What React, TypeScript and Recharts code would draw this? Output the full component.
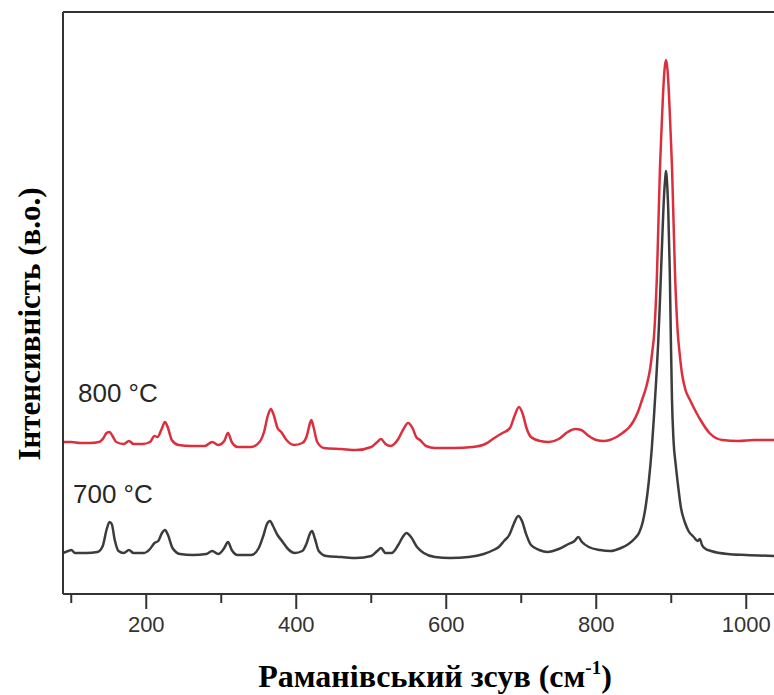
import React from 'react';
import { LineChart, Line, XAxis, YAxis, ReferenceLine, Customized } from 'recharts';

// Raman shift axis (cm-1)
const shiftTicks = [100, 200, 300, 400, 500, 600, 700, 800, 900, 1000];
const shiftDomain: [number, number] = [89, 1037];
const intensityDomain: [number, number] = [0, 582];

// Spectrum of the sample annealed at 800 °C (offset upwards)
const shift800 = [
  89, 100, 112, 125, 137, 143, 147, 151, 155, 160,
  170, 177, 183, 195, 205, 211, 215, 220, 225, 229,
  234, 243, 260, 278, 288, 296, 304, 309, 314, 322,
  340, 351, 357, 362, 366, 370, 375, 380, 387, 397,
  408, 414, 418, 420, 423, 428, 437, 460, 480, 500,
  508, 513, 519, 526, 536, 543, 549, 555, 560, 565,
  573, 585, 610, 635, 652, 664, 675, 685, 691, 697,
  702, 707, 713, 725, 737, 750, 762, 772, 780, 790,
  800, 810, 818, 827, 835, 843, 849, 855, 861, 867,
  872, 875, 877, 879, 881, 882, 883, 885, 887, 889,
  891, 893, 895, 897, 899, 901, 903, 904, 905, 907,
  909, 911, 914, 919, 925, 933, 939, 951, 968, 990,
  1010, 1037,
];
const counts800 = [
  152, 152, 151, 151, 152, 156, 161, 162, 158, 152,
  150, 153, 150, 150, 152, 158, 157, 164, 172, 166,
  154, 149, 148, 148, 152, 149, 153, 161, 152, 147,
  147, 152, 162, 178, 185, 179, 166, 162, 154, 149,
  151, 158, 170, 174, 167, 152, 146, 145, 144, 147,
  152, 155, 150, 148, 155, 165, 171, 166, 157, 154,
  148, 146, 146, 147, 150, 156, 161, 166, 178, 187,
  180, 166, 157, 153, 152, 155, 162, 165, 164, 158,
  154, 153, 154, 157, 161, 166, 172, 181, 194, 208,
  226, 244, 258, 284, 321, 347, 374, 427, 464, 499,
  524, 534, 524, 499, 464, 427, 374, 347, 321, 284,
  258, 242, 222, 204, 194, 182, 174, 161, 154, 153,
  154, 154,
];

// Spectrum of the sample annealed at 700 °C
const shift700 = [
  89, 96, 100, 105, 120, 135, 142, 147, 151, 154,
  158, 163, 170, 177, 183, 197, 205, 211, 216, 221,
  225, 229, 235, 245, 262, 280, 288, 296, 304, 309,
  314, 322, 340, 350, 356, 361, 365, 369, 375, 381,
  389, 398, 408, 414, 418, 421, 425, 430, 440, 460,
  480, 500, 508, 513, 519, 527, 536, 542, 547, 553,
  561, 570, 585, 605, 630, 650, 663, 670, 677, 684,
  690, 696, 701, 706, 713, 724, 735, 750, 763, 771,
  776, 781, 790, 805, 819, 833, 843, 852, 857, 862,
  866, 870, 874, 877, 880, 882.5, 884.5, 886.5, 888.5, 890.5,
  892, 893, 894, 896, 898, 899.5, 901, 903, 906, 909,
  913, 918, 923, 930, 935, 938, 941, 946, 953, 975,
  1000, 1037,
];
const counts700 = [
  41, 43, 44, 41, 41, 42, 48, 64, 72, 70,
  54, 43, 41, 44, 41, 41, 45, 51, 53, 61,
  64, 59, 46, 40, 39, 40, 43, 40, 46, 52,
  44, 39, 39, 46, 58, 70, 73, 68, 59, 53,
  45, 41, 43, 51, 60, 63, 55, 43, 38, 37,
  36, 38, 43, 46, 41, 41, 49, 57, 61, 57,
  47, 41, 37, 36, 37, 40, 44, 47, 53, 59,
  70, 78, 73, 61, 49, 44, 42, 45, 50, 53,
  57, 52, 47, 44, 43, 46, 50, 56, 61, 72,
  88, 112, 145, 178, 215, 250, 285, 325, 365, 400,
  416, 423, 416, 384, 324, 254, 194, 154, 129, 109,
  86, 72, 63, 57, 53, 55, 49, 45, 43, 40,
  39, 38,
];

const seriesLabels = ['800 °C', '700 °C'];
const xTitle = 'Раманівський зсув (см';
const yTitle = 'Інтенсивність (в.о.)';

const spectrum800 = shift800.map((s, i) => ({ shift: s, counts: counts800[i] }));
const spectrum700 = shift700.map((s, i) => ({ shift: s, counts: counts700[i] }));

const AXIS_COLOR = '#333333';
const SANS = '"Liberation Sans", Arial, sans-serif';
const SERIF = '"Liberation Serif", "Times New Roman", serif';

const ShiftTick = (props: any) => {
  const { x, y, payload } = props;
  const major = payload.value % 200 === 0;
  return (
    <g>
      <line x1={x} x2={x} y1={y} y2={y + (major ? 15 : 9)} stroke={AXIS_COLOR} strokeWidth={2} />
      {major && (
        <text x={x} y={y + 38} textAnchor="middle" fontFamily={SANS} fontSize={22} fill="#333">
          {payload.value}
        </text>
      )}
    </g>
  );
};

const Annotations = () => (
  <g>
    <text x={78} y={402} fontFamily={SANS} fontSize={26} fill="#262626">{seriesLabels[0]}</text>
    <text x={73} y={503} fontFamily={SANS} fontSize={26} fill="#262626">{seriesLabels[1]}</text>
    <text
      x={29}
      y={324}
      textAnchor="middle"
      dominantBaseline="central"
      transform="rotate(-90, 29, 324)"
      fontFamily={SERIF}
      fontWeight="bold"
      fontSize={31}
      fill="#000"
    >
      {yTitle}
    </text>
    <text x={435} y={687} textAnchor="middle" fontFamily={SERIF} fontWeight="bold" fontSize={32} fill="#000">
      {xTitle}
      <tspan fontSize={19} dy={-13}>-1</tspan>
      <tspan dy={13}>)</tspan>
    </text>
  </g>
);

export default function App() {
  return (
    <div style={{ position: 'absolute', left: 0, top: 0, width: 774, height: 695, background: '#fff' }}>
      <LineChart width={774} height={695} margin={{ top: 12, right: 0, bottom: 41, left: 3 }}>
        <XAxis
          type="number"
          dataKey="shift"
          domain={shiftDomain}
          allowDataOverflow
          ticks={shiftTicks}
          interval={0}
          tickLine={false}
          tickSize={0}
          tickMargin={0}
          height={60}
          tick={<ShiftTick />}
          axisLine={{ stroke: AXIS_COLOR, strokeWidth: 2 }}
        />
        <YAxis
          type="number"
          dataKey="counts"
          domain={intensityDomain}
          allowDataOverflow
          width={60}
          tick={false}
          tickLine={false}
          axisLine={{ stroke: AXIS_COLOR, strokeWidth: 2 }}
        />
        <ReferenceLine y={intensityDomain[1]} stroke={AXIS_COLOR} strokeWidth={2} />
        <Line
          data={spectrum700}
          dataKey="counts"
          type="monotone"
          stroke="#3c3c3c"
          strokeWidth={2.5}
          dot={false}
          isAnimationActive={false}
        />
        <Line
          data={spectrum800}
          dataKey="counts"
          type="monotone"
          stroke="#dc2f3d"
          strokeWidth={2.5}
          dot={false}
          isAnimationActive={false}
        />
        <Customized component={<Annotations />} />
      </LineChart>
    </div>
  );
}
